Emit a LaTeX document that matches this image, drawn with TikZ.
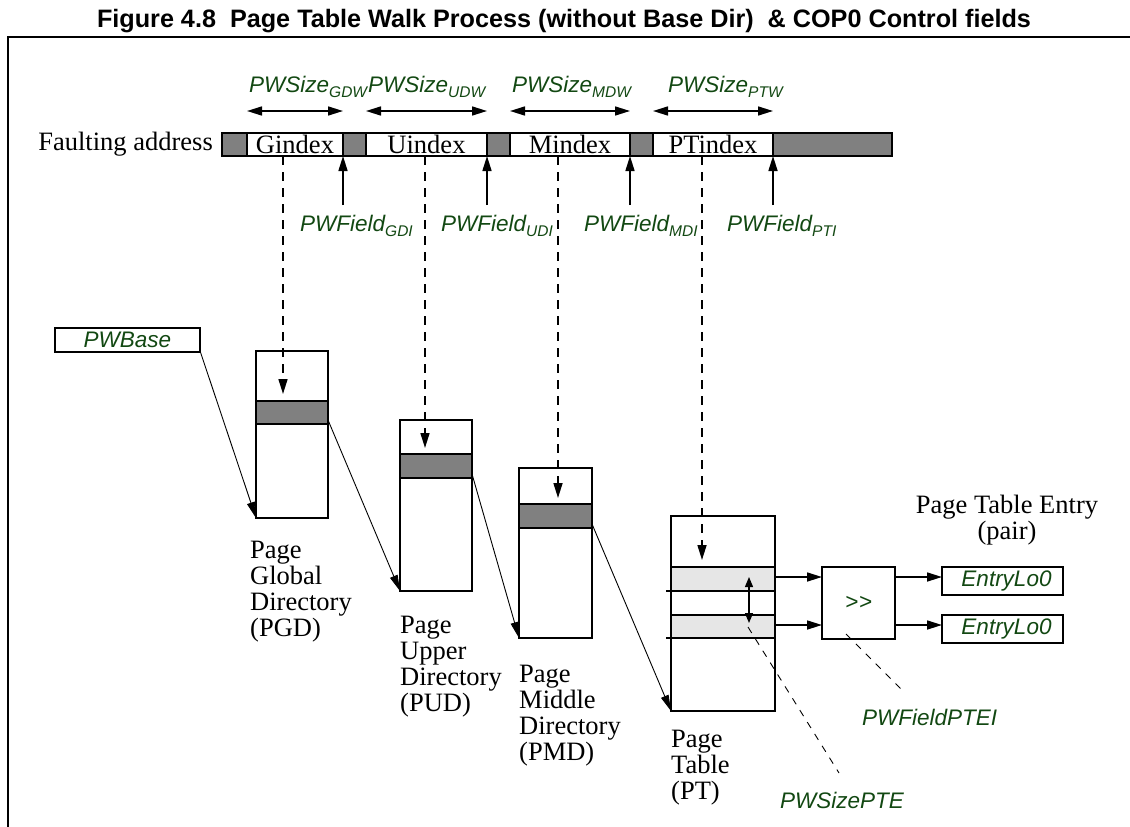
\documentclass[tikz,border=0pt]{standalone}
\usepackage{fontspec}
\setmainfont{Liberation Serif}
\setsansfont{Liberation Sans}
\usetikzlibrary{arrows.meta,calc}
\definecolor{lblgreen}{RGB}{18,72,18}
\definecolor{segGray}{RGB}{128,128,128}
\definecolor{bandLight}{RGB}{230,230,230}
\newcommand{\mysub}[1]{\raisebox{-5pt}{\fontsize{15.5}{15.5}\selectfont #1}}
\newcommand{\serifbig}{\rmfamily\fontsize{26.5}{26}\selectfont}
\newcommand{\lblfont}{\sffamily\itshape\fontsize{22.5}{26}\selectfont}
\tikzset{
  seg/.style={draw, line width=1.6pt, inner sep=0pt, outer sep=0pt, anchor=north west, minimum height=23pt, font=\serifbig},
  gseg/.style={seg, fill=segGray},
  tbl/.style={draw, line width=1.6pt, fill=white, inner sep=0pt, outer sep=0pt, anchor=north west},
  lbl/.style={font=\lblfont, text=lblgreen, inner sep=0pt},
  dirlbl/.style={font=\serifbig, align=left, inner sep=0pt, anchor=north west},
  fat/.style={line width=1.6pt, -{Triangle[length=15pt,width=9pt]}},
  fatdbl/.style={line width=1.6pt, {Triangle[length=15pt,width=9pt]}-{Triangle[length=15pt,width=9pt]}},
  thinarrow/.style={line width=0.9pt, -{Triangle[length=16pt,width=8pt]}},
  dasharrow/.style={line width=1.6pt, dash pattern=on 9pt off 7pt, -{Triangle[length=15pt,width=9pt]}},
  thindash/.style={line width=0.9pt, dash pattern=on 7pt off 7pt},
  smalldbl/.style={line width=1.2pt, {Triangle[length=10pt,width=8pt]}-{Triangle[length=10pt,width=8pt]}}
}
\begin{document}
\begin{tikzpicture}[x=1pt,y=-1pt]
\useasboundingbox (0,0) rectangle (1130,827);
% title and frame
\node[font=\sffamily\bfseries\fontsize{25.2}{28}\selectfont, inner sep=0pt] (title) at (564,21) {Figure 4.8\ \ Page Table Walk Process (without Base Dir)\ \ \& COP0 Control fields};
\coordinate (frTL) at (8,37);
\coordinate (frTR) at (1130,37);
\coordinate (frBL) at (8,827);
\draw[line width=1.8pt] (frTR) -- (frTL) -- (frBL);

% faulting address bar
\node[font=\serifbig, anchor=east, inner sep=0pt] (fa) at (213,144) {Faulting address};
\node[gseg, minimum width=25pt] (s0) at (222,133) {};
\node[seg, minimum width=96pt] (gidx) at (247,133) {Gindex};
\node[gseg, minimum width=23pt] (s1) at (343,133) {};
\node[seg, minimum width=121pt] (uidx) at (366,133) {Uindex};
\node[gseg, minimum width=23pt] (s2) at (487,133) {};
\node[seg, minimum width=120pt] (midx) at (510,133) {Mindex};
\node[gseg, minimum width=23pt] (s3) at (630,133) {};
\node[seg, minimum width=120pt] (ptidx) at (653,133) {PTindex};
\node[gseg, minimum width=119pt] (s4) at (773,133) {};

% PWSize arrows and labels
\draw[fatdbl] ([yshift=22pt]gidx.north west) -- ([yshift=22pt]gidx.north east);
\draw[fatdbl] ([yshift=22pt]uidx.north west) -- ([yshift=22pt]uidx.north east);
\draw[fatdbl] ([yshift=22pt]midx.north west) -- ([yshift=22pt]midx.north east);
\draw[fatdbl] ([yshift=22pt]ptidx.north west) -- ([yshift=22pt]ptidx.north east);
\node[lbl, anchor=base west] (szg) at (249,92) {PWSize\mysub{GDW}};
\node[lbl, anchor=base west] (szu) at (368,92) {PWSize\mysub{UDW}};
\node[lbl, anchor=base west] (szm) at (512,92) {PWSize\mysub{MDW}};
\node[lbl, anchor=base west] (szp) at (668,92) {PWSize\mysub{PTW}};

% PWField arrows and labels
\coordinate (fg) at (343,205);
\coordinate (fu) at (487,205);
\coordinate (fm) at (630,205);
\coordinate (fp) at (773,205);
\draw[fat] (fg) -- (s1.south west);
\draw[fat] (fu) -- (s2.south west);
\draw[fat] (fm) -- (s3.south west);
\draw[fat] (fp) -- (s4.south west);
\node[lbl, anchor=base west] (fdg) at (300,231) {PWField\mysub{GDI}};
\node[lbl, anchor=base west] (fdu) at (441,231) {PWField\mysub{UDI}};
\node[lbl, anchor=base west] (fdm) at (584,231) {PWField\mysub{MDI}};
\node[lbl, anchor=base west] (fdp) at (727,231) {PWField\mysub{PTI}};

% PWBase
\node[draw, line width=1.6pt, inner sep=0pt, anchor=north west, minimum width=145pt, minimum height=24pt, font=\lblfont, text=lblgreen] (base) at (54,327) {PWBase};

% tables
\node[tbl, minimum width=72pt, minimum height=167pt] (pgd) at (256,351) {};
\node[tbl, fill=segGray, minimum width=72pt, minimum height=23pt] (pgdE) at (256,401) {};
\node[tbl, minimum width=72pt, minimum height=171pt] (pud) at (400,420) {};
\node[tbl, fill=segGray, minimum width=72pt, minimum height=24pt] (pudE) at (400,454) {};
\node[tbl, minimum width=73pt, minimum height=170pt] (pmd) at (519,468) {};
\node[tbl, fill=segGray, minimum width=73pt, minimum height=24pt] (pmdE) at (519,504) {};
\node[tbl, minimum width=104pt, minimum height=195pt] (pt) at (671,516) {};
\node[tbl, fill=bandLight, minimum width=104pt, minimum height=24pt] (ptb1) at (671,567) {};
\node[tbl, fill=bandLight, minimum width=104pt, minimum height=23pt] (ptb2) at (671,615) {};
\coordinate (ptl1) at (666,591);
\coordinate (ptl2) at (666,638);
\draw[line width=1.6pt] (ptl1) -- (ptb1.south west);
\draw[line width=1.6pt] (ptl2) -- (ptb2.south west);

% dashed index arrows
\coordinate (dg0) at (283,156); \coordinate (dg1) at (283,394);
\coordinate (du0) at (425,156); \coordinate (du1) at (425,448);
\coordinate (dm0) at (558,156); \coordinate (dm1) at (558,498);
\coordinate (dp0) at (702,156); \coordinate (dp1) at (702,560);
\draw[dasharrow] (dg0) -- (dg1);
\draw[dasharrow] (du0) -- (du1);
\draw[dasharrow] (dm0) -- (dm1);
\draw[dasharrow] (dp0) -- (dp1);

% table-to-table connectors
\draw[thinarrow] (base.south east) -- (pgd.south west);
\draw[thinarrow] ([yshift=4pt]pgdE.south east) -- (pud.south west);
\draw[thinarrow] ([yshift=4pt]pudE.south east) -- (pmd.south west);
\draw[thinarrow] ([yshift=4pt]pmdE.south east) -- (pt.south west);

% table labels
\node[dirlbl] (pgdL) at (250,541) {Page\\Global\\Directory\\(PGD)};
\node[dirlbl] (pudL) at (400,616) {Page\\Upper\\Directory\\(PUD)};
\node[dirlbl] (pmdL) at (519,665) {Page\\Middle\\Directory\\(PMD)};
\node[dirlbl] (ptL) at (671,730) {Page\\Table\\(PT)};

% shift box and entries
\node[tbl, minimum width=73pt, minimum height=72pt, font=\lblfont, text=lblgreen] (shr) at (822,567) {\textgreater\kern0.5pt\textgreater};
\node[tbl, minimum width=121pt, minimum height=28pt, font=\lblfont, text=lblgreen] (e1) at (942,567) {\hspace{8pt}EntryLo0};
\node[tbl, minimum width=121pt, minimum height=28pt, font=\lblfont, text=lblgreen] (e2) at (942,615) {\hspace{8pt}EntryLo0};
\node[font=\serifbig, align=center, inner sep=0pt, anchor=north] (pte) at (1007,495) {Page Table Entry\\(pair)};

\coordinate (a1) at (775,577);
\coordinate (a2) at (775,625);
\draw[fat] (a1) -- (a1 -| shr.west);
\draw[fat] (a2) -- (a2 -| shr.west);
\draw[fat] (a1 -| shr.east) -- (a1 -| e1.west);
\draw[fat] (a2 -| shr.east) -- (a2 -| e2.west);

% PTE size double arrow and callouts
\coordinate (dd1) at (749,577);
\coordinate (dd2) at (749,623);
\draw[smalldbl] (dd1) -- (dd2);
\node[lbl, anchor=base west] (szpte) at (780,808) {PWSizePTE};
\node[lbl, anchor=base west] (fdpte) at (862,725) {PWFieldPTEI};
\coordinate (c1a) at (748,627); \coordinate (c1b) at (839,773);
\coordinate (c2a) at (846,634); \coordinate (c2b) at (903,691);
\draw[thindash] (c1a) -- (c1b);
\draw[thindash] (c2a) -- (c2b);
\end{tikzpicture}
\end{document}
